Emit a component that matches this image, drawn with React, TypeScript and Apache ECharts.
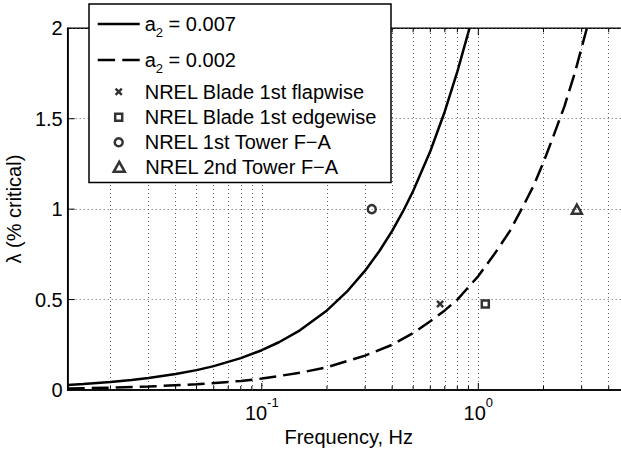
import React, { useEffect, useRef } from 'react';
import * as echarts from 'echarts';

const FONT = '"Liberation Sans", Arial, Helvetica, sans-serif';

const X_MIN = 0.0127;
const X_MAX = 5;
const Y_MIN = 0;
const Y_MAX = 2;

// a2 = 0.007 curve
const FREQ_A7 = [0.0127, 0.015, 0.02, 0.025, 0.03, 0.04, 0.05, 0.06, 0.08, 0.1, 0.12, 0.15, 0.2, 0.25, 0.3, 0.35, 0.4, 0.45, 0.5, 0.6, 0.7, 0.8, 0.91];
const LAMBDA_A7 = [0.028, 0.033, 0.044, 0.055, 0.066, 0.088, 0.11, 0.132, 0.176, 0.22, 0.264, 0.33, 0.44, 0.55, 0.66, 0.77, 0.88, 0.99, 1.1, 1.32, 1.54, 1.76, 2.0];

// a2 = 0.002 curve
const FREQ_A2 = [0.0127, 0.02, 0.03, 0.05, 0.08, 0.1, 0.15, 0.2, 0.3, 0.4, 0.5, 0.6, 0.7, 0.8, 1.0, 1.2, 1.4, 1.6, 1.8, 2.0, 2.2, 2.5, 2.8, 3.17];
const LAMBDA_A2 = [0.008, 0.0126, 0.019, 0.0315, 0.05, 0.063, 0.095, 0.126, 0.19, 0.25, 0.315, 0.38, 0.44, 0.5, 0.63, 0.76, 0.88, 1.01, 1.13, 1.26, 1.39, 1.57, 1.76, 2.0];

const CURVE_NAMES = ['a2 = 0.007', 'a2 = 0.002'];
const CURVE_LABELS = ['{m|a}{s|2}{m| = 0.007}', '{m|a}{s|2}{m| = 0.002}'];

const MODE_NAMES = ['NREL Blade 1st flapwise', 'NREL Blade 1st edgewise', 'NREL 1st Tower F\u2212A', 'NREL 2nd Tower F\u2212A'];
const MODE_FREQ = [0.666, 1.077, 0.322, 2.85];
const MODE_DAMP = [0.476, 0.476, 1.0, 1.0];

const X_MAJOR = [0.1, 1];
const X_MINOR = [0.02, 0.03, 0.04, 0.05, 0.06, 0.07, 0.08, 0.09, 0.2, 0.3, 0.4, 0.5, 0.6, 0.7, 0.8, 0.9, 2, 3, 4];
const Y_TICKS = [0.5, 1, 1.5];

const X_MARK = 'path://M0,2.2L2.2,0L5,2.8L7.8,0L10,2.2L7.2,5L10,7.8L7.8,10L5,7.2L2.2,10L0,7.8L2.8,5Z';
const SQUARE = 'path://M0,0H10V10H0Z';
const TRIANGLE = 'path://M5,0L10,9H0Z';
const SOLID_ICON = 'path://M0,0H42V2.5H0Z';
const DASH_ICON = 'path://M0,0H17V2.5H0ZM24,0H41V2.5H24Z';

const GRID_STYLE = { color: '#606060', type: [1, 3] as number[], width: 1 };
const STROKE = 2.5;
const ICON_LEFT = 97.7;
const ICON_W = 42;

export default function App() {
  const ref = useRef<HTMLDivElement>(null);
  useEffect(() => {
    if (!ref.current) return;
    const chart = echarts.init(ref.current, null, { renderer: 'svg' });

    const legendBase = (name: string, top: number, itemHeight: number, left: number, extra: any = {}) => ({
      show: true,
      orient: 'vertical',
      left,
      top,
      padding: 0,
      itemGap: 0,
      itemWidth: ICON_W,
      itemHeight,
      selectedMode: false,
      symbolKeepAspect: true,
      z: 60,
      data: [name],
      textStyle: {
        fontFamily: FONT,
        fontSize: 20,
        lineHeight: 20,
        color: '#000',
      },
      ...extra,
    });

    const richText = {
      fontFamily: FONT,
      fontSize: 20,
      color: '#000',
      rich: {
        m: { fontFamily: FONT, fontSize: 20, lineHeight: 20, color: '#000', verticalAlign: 'middle' },
        s: { fontFamily: FONT, fontSize: 13, color: '#000', padding: [17, 0, 0, 0], verticalAlign: 'middle' },
      },
    };

    const hollow = { color: 'transparent', borderColor: '#000', borderWidth: STROKE };
    const modeSymbols = [X_MARK, SQUARE, 'circle', TRIANGLE];
    const modeSizes = [8, 7, 8, 10];
    const modeStrokes = [0, STROKE, STROKE, STROKE];
    const modeStyles = [{ color: '#000', borderWidth: 0 }, hollow, hollow, hollow];
    const modeTops = [81.7, 107.2, 132.3, 156.8];
    // shift so that the icon's visible box sits centred in the 42px icon slot
    const modeLeft = (i: number) => ICON_LEFT + (ICON_W - modeSizes[i]) / 2 - modeStrokes[i] / 2;

    const option: any = {
      animation: false,
      backgroundColor: '#fff',
      textStyle: { fontFamily: FONT },
      grid: {
        left: 67.7,
        top: 28.3,
        bottom: 61,
        right: -8.7,
        show: true,
        borderColor: '#000',
        borderWidth: 1.5,
        containLabel: false,
        outerBoundsMode: 'none',
      },
      xAxis: {
        type: 'log',
        logBase: 10,
        min: X_MIN,
        max: X_MAX,
        name: 'Frequency, Hz',
        nameLocation: 'middle',
        nameGap: 36,
        nameTextStyle: { fontFamily: FONT, fontSize: 20, color: '#000' },
        axisLine: { show: true, lineStyle: { color: '#000', width: 1.5 } },
        axisTick: { show: false },
        splitLine: { show: false },
        axisLabel: {
          margin: 6,
          color: '#000',
          formatter: (v: number) => {
            const e = Math.log10(v);
            const r = Math.round(e);
            if (Math.abs(e - r) > 1e-6) return '';
            if (r !== -1 && r !== 0) return '';
            return '{b|10}{s|' + (r === -1 ? '-1' : '0') + '}';
          },
          rich: {
            b: { fontFamily: FONT, fontSize: 20, color: '#000', verticalAlign: 'middle' },
            s: { fontFamily: FONT, fontSize: 13, color: '#000', padding: [0, 0, 20, 0], verticalAlign: 'middle' },
          },
        },
      },
      yAxis: {
        type: 'value',
        min: Y_MIN,
        max: Y_MAX,
        interval: 0.5,
        name: '\u03bb (% critical)',
        nameLocation: 'middle',
        nameGap: 43,
        nameTextStyle: { fontFamily: FONT, fontSize: 20, color: '#000' },
        axisLine: { show: true, lineStyle: { color: '#000', width: 1.5 } },
        axisTick: { show: false },
        axisLabel: { fontFamily: FONT, fontSize: 20, color: '#000', margin: 5 },
        splitLine: { show: true, lineStyle: GRID_STYLE },
      },
      legend: [
        legendBase(CURVE_NAMES[0], 14, 14, ICON_LEFT, {
          icon: SOLID_ICON,
          itemStyle: { color: '#000', borderWidth: 0 },
          formatter: () => CURVE_LABELS[0],
          textStyle: richText,
        }),
        legendBase(CURVE_NAMES[1], 50, 14, ICON_LEFT, {
          icon: DASH_ICON,
          itemStyle: { color: '#000', borderWidth: 0 },
          formatter: () => CURVE_LABELS[1],
          textStyle: richText,
        }),
        ...MODE_NAMES.map((n, i) =>
          legendBase(n, modeTops[i], modeSizes[i], modeLeft(i), {
            icon: modeSymbols[i],
            itemStyle: modeStyles[i],
          })
        ),
      ],
      graphic: [
        {
          type: 'rect',
          z: 50,
          silent: true,
          shape: { x: 89, y: 4, width: 302, height: 178.5 },
          style: { fill: '#fff', stroke: '#000', lineWidth: 1.5 },
        },
      ],
      series: [
        {
          name: CURVE_NAMES[0],
          type: 'line',
          data: FREQ_A7.map((f, i) => [f, LAMBDA_A7[i]]),
          symbol: 'none',
          showSymbol: false,
          z: 10,
          lineStyle: { color: '#000', width: 2.5, type: 'solid' },
          itemStyle: { color: '#000' },
          markLine: {
            silent: true,
            z: 1,
            symbol: ['none', 'none'],
            label: { show: false },
            lineStyle: GRID_STYLE,
            emphasis: { disabled: true },
            data: [...X_MINOR, ...X_MAJOR].map((v) => ({ xAxis: v })),
          },
        },
        {
          name: CURVE_NAMES[1],
          type: 'line',
          data: FREQ_A2.map((f, i) => [f, LAMBDA_A2[i]]),
          symbol: 'none',
          showSymbol: false,
          z: 10,
          lineStyle: { color: '#000', width: 2.5, type: [17, 7] },
          itemStyle: { color: '#000' },
        },
        ...MODE_NAMES.map((n, i) => ({
          name: n,
          type: 'scatter',
          data: [[MODE_FREQ[i], MODE_DAMP[i]]],
          symbol: modeSymbols[i],
          symbolSize: modeSizes[i],
          symbolKeepAspect: true,
          itemStyle: modeStyles[i],
          z: 12,
        })),
        {
          name: 'xticks',
          type: 'custom',
          silent: true,
          z: 8,
          data: [...X_MAJOR.map((v) => [v, 7]), ...X_MINOR.map((v) => [v, 4])],
          renderItem: (_p: any, api: any) => {
            const v = api.value(0);
            const len = api.value(1);
            const b = api.coord([v, Y_MIN]);
            const t = api.coord([v, Y_MAX]);
            return {
              type: 'group',
              children: [
                { type: 'line', shape: { x1: b[0], y1: b[1], x2: b[0], y2: b[1] - len }, style: { stroke: '#000', lineWidth: 1 } },
                { type: 'line', shape: { x1: t[0], y1: t[1], x2: t[0], y2: t[1] + len }, style: { stroke: '#000', lineWidth: 1 } },
              ],
            };
          },
        },
        {
          name: 'yticks',
          type: 'custom',
          silent: true,
          z: 8,
          data: Y_TICKS.map((v) => [X_MIN, v]),
          renderItem: (_p: any, api: any) => {
            const p = api.coord([api.value(0), api.value(1)]);
            return {
              type: 'line',
              shape: { x1: p[0], y1: p[1], x2: p[0] + 7, y2: p[1] },
              style: { stroke: '#000', lineWidth: 1 },
            };
          },
        },
      ],
    };

    chart.setOption(option);
    return () => chart.dispose();
  }, []);

  return (
    <div
      ref={ref}
      style={{ position: 'fixed', left: 0, top: 0, width: 621, height: 451, background: '#fff' }}
    />
  );
}
